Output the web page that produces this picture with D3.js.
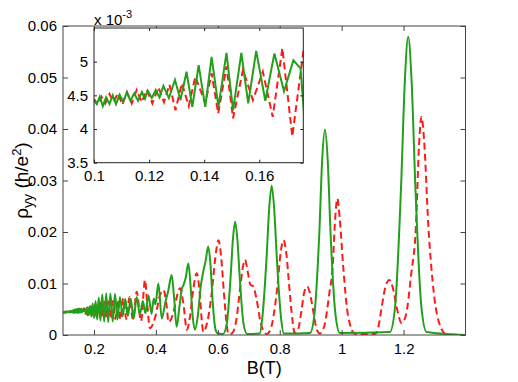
<!DOCTYPE html>
<meta charset="utf-8">
<script src="https://d3js.org/d3.v7.min.js"></script>
<style>
  body { margin: 0; background: #fff; }
  text { font-family: "Liberation Sans Narrow", "Arial Narrow", "Liberation Sans", sans-serif; fill: #000; }
</style>
<div id="chart"></div>
<script>
// ---- data (B in tesla, rho_yy in h/e^2) ----
var green = [
  [0.1000,0.00442],[0.1010,0.00437],[0.1021,0.00448],[0.1032,0.00434],[0.1044,0.00447],[0.1056,0.00437],
  [0.1068,0.00450],[0.1080,0.00437],[0.1093,0.00451],[0.1106,0.00441],[0.1119,0.00454],[0.1132,0.00442],
  [0.1146,0.00453],[0.1160,0.00442],[0.1174,0.00455],[0.1185,0.00445],[0.1195,0.00457],[0.1210,0.00446],
  [0.1224,0.00458],[0.1238,0.00447],[0.1252,0.00464],[0.1272,0.00446],[0.1294,0.00473],[0.1314,0.00443],
  [0.1336,0.00485],[0.1357,0.00433],[0.1380,0.00495],[0.1404,0.00433],[0.1427,0.00507],[0.1452,0.00433],
  [0.1481,0.00513],[0.1505,0.00428],[0.1535,0.00513],[0.1560,0.00438],[0.1589,0.00516],[0.1622,0.00442],
  [0.1655,0.00512],[0.1690,0.00456],[0.1724,0.00502],[0.1750,0.00490],
  [0.1765,0.0041],[0.1800,0.0054],[0.1838,0.0039],[0.1875,0.0057],[0.1915,0.0036],[0.1958,0.0061],
  [0.2003,0.0033],[0.2052,0.0066],[0.2103,0.0030],[0.2155,0.0073],[0.2210,0.0028],[0.2268,0.0079],
  [0.2330,0.0026],[0.2395,0.0081],[0.2460,0.0025],[0.2530,0.0081],[0.2605,0.0026],[0.2680,0.0080],
  [0.2760,0.0030],[0.2840,0.0074],[0.2925,0.0036],[0.3010,0.0070],[0.3095,0.0037],[0.3185,0.0071],
  [0.3280,0.0031],[0.3380,0.0074],[0.3480,0.0040],[0.3580,0.0066],[0.3660,0.0042],[0.3760,0.0077],
  [0.3860,0.0041],[0.3930,0.0071],[0.3985,0.0060],[0.4080,0.0100],[0.4190,0.0032],[0.4300,0.0062],
  [0.4400,0.0086],[0.4510,0.01165],[0.4585,0.0075],[0.4670,0.0016],[0.4760,0.0055],[0.4840,0.0090],
  [0.4890,0.0097],[0.4960,0.0110],[0.5050,0.0139],[0.5120,0.0095],[0.5190,0.0035],[0.5260,0.0010],
  [0.5350,0.0035],[0.5450,0.0095],[0.5530,0.0123],[0.5610,0.0145],[0.5690,0.0172],[0.5760,0.0140],
  [0.5840,0.0060],[0.5920,0.0012],[0.5980,0.0004],[0.6170,0.0002],[0.6290,0.0022],[0.6410,0.0110],
  [0.6490,0.0187],[0.6560,0.0220],[0.6630,0.0187],[0.6710,0.0110],[0.6830,0.0022],[0.6950,0.0002],
  [0.7350,0.0003],[0.7430,0.0029],[0.7570,0.0145],[0.7660,0.0246],[0.7740,0.0290],[0.7820,0.0246],
  [0.7910,0.0145],[0.8050,0.0029],[0.8130,0.0003],[0.8980,0.0004],[0.9120,0.0040],[0.9280,0.0200],
  [0.9370,0.0339],[0.9460,0.0399],[0.9550,0.0339],[0.9640,0.0200],[0.9800,0.0040],[0.9940,0.0004],
  [1.1560,0.0006],[1.1730,0.0058],[1.1920,0.0290],[1.2040,0.0492],[1.2150,0.0579],[1.2260,0.0492],
  [1.2380,0.0290],[1.2570,0.0058],[1.2740,0.0006],[1.4000,0.0000]
];

var red = [
  [0.1000,0.00445],[0.1013,0.00436],[0.1027,0.00448],[0.1041,0.00438],[0.1056,0.00452],[0.1071,0.00440],
  [0.1087,0.00453],[0.1103,0.00436],[0.1120,0.00455],[0.1137,0.00438],[0.1155,0.00458],[0.1173,0.00440],
  [0.1192,0.00458],[0.1212,0.00438],[0.1234,0.00462],[0.1254,0.00440],[0.1274,0.00466],[0.1296,0.00428],
  [0.1319,0.00468],[0.1344,0.00434],[0.1368,0.00478],[0.1404,0.00438],[0.1427,0.00483],[0.1451,0.00423],
  [0.1481,0.00493],[0.1505,0.00416],[0.1541,0.00488],[0.1577,0.00443],[0.1613,0.00485],[0.1649,0.00418],
  [0.1684,0.00520],[0.1720,0.00389],[0.1765,0.0053],
  [0.1803,0.0038],[0.1843,0.0053],[0.1888,0.0038],[0.1935,0.0055],[0.1983,0.0037],[0.2032,0.0058],
  [0.2080,0.0035],[0.2126,0.0061],[0.2178,0.0034],[0.2230,0.0063],[0.2287,0.0033],[0.2344,0.0064],
  [0.2405,0.0032],[0.2470,0.0065],[0.2540,0.0032],[0.2610,0.0066],[0.2690,0.0031],[0.2768,0.0068],
  [0.2855,0.0030],[0.2946,0.0071],[0.3045,0.0031],[0.3148,0.0074],[0.3260,0.0030],[0.3380,0.0084],
  [0.3520,0.0027],[0.3650,0.0107],[0.3720,0.0060],[0.3810,0.0013],[0.3860,0.0016],[0.4000,0.0040],
  [0.4120,0.0075],[0.4250,0.0087],[0.4340,0.0060],[0.4410,0.0025],[0.4550,0.0040],[0.4680,0.0075],
  [0.4780,0.0091],[0.4890,0.0060],[0.5000,0.0010],[0.5100,0.0035],[0.5200,0.0085],[0.5320,0.0120],
  [0.5410,0.0085],[0.5480,0.0030],[0.5530,0.0006],[0.5660,0.0025],[0.5800,0.0080],[0.5920,0.0150],
  [0.6020,0.0184],[0.6110,0.0150],[0.6200,0.0080],[0.6280,0.0025],[0.6340,0.0002],[0.6450,0.0003],
  [0.6600,0.0030],[0.6720,0.0090],[0.6810,0.0132],[0.6880,0.0146],[0.6960,0.0125],[0.7050,0.0098],
  [0.7150,0.0094],[0.7250,0.0070],[0.7380,0.0025],[0.7500,0.0005],[0.7580,0.0002],[0.7700,0.0010],
  [0.7820,0.0045],[0.7920,0.0092],[0.8030,0.0160],[0.8120,0.0184],[0.8210,0.0160],[0.8310,0.0092],
  [0.8410,0.0030],[0.8480,0.0004],[0.8600,0.0012],[0.8700,0.0047],[0.8800,0.0085],[0.8890,0.0094],
  [0.8980,0.0080],[0.9080,0.0047],[0.9200,0.0010],[0.9300,0.0003],[0.9450,0.0020],[0.9600,0.0080],
  [0.9710,0.0133],[0.9790,0.0225],[0.9860,0.0265],[0.9940,0.0225],[1.0050,0.0133],[1.0200,0.0040],
  [1.0430,0.0002],[1.1080,0.0002],[1.1200,0.0020],[1.1290,0.0053],[1.1420,0.0095],[1.1540,0.0107],
  [1.1660,0.0090],[1.1780,0.0053],[1.1940,0.0023],[1.2080,0.0040],[1.2250,0.0120],[1.2400,0.0212],
  [1.2500,0.0370],[1.2580,0.0424],[1.2660,0.0380],[1.2800,0.0212],[1.2980,0.0080],[1.3200,0.0015],
  [1.3390,0.0001],[1.4000,0.0000]
];

var xTicks = [0.2, 0.4, 0.6, 0.8, 1, 1.2];
var xTickLabels = ["0.2", "0.4", "0.6", "0.8", "1", "1.2"];
var yTicks = [0, 0.01, 0.02, 0.03, 0.04, 0.05, 0.06];
var yTickLabels = ["0", "0.01", "0.02", "0.03", "0.04", "0.05", "0.06"];
var insetXTicks = [0.1, 0.12, 0.14, 0.16];
var insetXTickLabels = ["0.1", "0.12", "0.14", "0.16"];
var insetYTicks = [0.0035, 0.004, 0.0045, 0.005];
var insetYTickLabels = ["3.5", "4", "4.5", "5"];

var greenColor = "#22a01a", redColor = "#ff1a1a";

var W = 518, H = 382;
var svg = d3.select("#chart").append("svg")
    .attr("width", W).attr("height", H)
    .style("display", "block").style("background", "#fff");

// ---- main axes ----
var mLeft = 63, mRight = 465.5, mTop = 26, mBottom = 335;

var x = d3.scaleLinear().domain([0.1, 1.4]).range([mLeft, mRight]);
var y = d3.scaleLinear().domain([0, 0.06]).range([mBottom, mTop]);

svg.append("clipPath").attr("id", "mainclip")
  .append("rect").attr("x", mLeft).attr("y", mTop).attr("width", mRight - mLeft).attr("height", mBottom - mTop);

var line = d3.line().x(d => x(d[0])).y(d => y(d[1])).curve(d3.curveMonotoneX);

var g = svg.append("g").attr("clip-path", "url(#mainclip)");
g.append("path").datum(red)
  .attr("d", line).attr("fill", "none")
  .attr("stroke", redColor).attr("stroke-width", 2).attr("stroke-dasharray", "7,4");
g.append("path").datum(green)
  .attr("d", line).attr("fill", "none")
  .attr("stroke", greenColor).attr("stroke-width", 2);

function frame(sel, xs, ys, xt, xl, yt, yl, color, tick) {
  var x0 = xs.range()[0], x1 = xs.range()[1], y0 = ys.range()[0], y1 = ys.range()[1];
  // bottom
  sel.append("g").attr("transform", "translate(0," + y0 + ")")
    .call(d3.axisBottom(xs).tickValues(xt).tickFormat((d, i) => xl[i]).tickSizeInner(-tick).tickSizeOuter(0).tickPadding(8))
    .call(a => a.select(".domain").remove());
  // top
  sel.append("g").attr("transform", "translate(0," + y1 + ")")
    .call(d3.axisTop(xs).tickValues(xt).tickFormat("").tickSizeInner(-tick).tickSizeOuter(0))
    .call(a => a.select(".domain").remove());
  // left
  sel.append("g").attr("transform", "translate(" + x0 + ",0)")
    .call(d3.axisLeft(ys).tickValues(yt).tickFormat((d, i) => yl[i]).tickSizeInner(-tick).tickSizeOuter(0).tickPadding(6))
    .call(a => a.select(".domain").remove());
  // right
  sel.append("g").attr("transform", "translate(" + x1 + ",0)")
    .call(d3.axisRight(ys).tickValues(yt).tickFormat("").tickSizeInner(-tick).tickSizeOuter(0))
    .call(a => a.select(".domain").remove());
  sel.selectAll(".tick line").attr("stroke", color);
  sel.selectAll(".tick text").style("font-size", "15px").attr("fill", "#000");
  sel.append("rect")
    .attr("x", x0).attr("y", y1)
    .attr("width", x1 - x0).attr("height", y0 - y1)
    .attr("fill", "none").attr("stroke", color).attr("stroke-width", 1);
}

frame(svg.append("g"), x, y, xTicks, xTickLabels, yTicks, yTickLabels, "#444", 5);

// axis labels
svg.append("text")
  .attr("x", (mLeft + mRight) / 2).attr("y", 374)
  .attr("text-anchor", "middle").style("font-size", "18px")
  .text("B(T)");

var yl = svg.append("text")
  .attr("transform", "translate(28," + ((mTop + mBottom) / 2) + ") rotate(-90)")
  .attr("text-anchor", "middle").style("font-size", "19px");
yl.append("tspan").text("\u03c1");
yl.append("tspan").attr("dy", 5).style("font-size", "14px").text("yy");
yl.append("tspan").attr("dy", -5).text(" (h/e");
yl.append("tspan").attr("dy", -7).style("font-size", "13px").text("2");
yl.append("tspan").attr("dy", 7).text(")");

// ---- inset ----
var iLeft = 94, iRight = 303.3, iTop = 28, iBottom = 162.7;
var ix = d3.scaleLinear().domain([0.1, 0.176]).range([iLeft, iRight]);
var iy = d3.scaleLinear().domain([0.0035, 0.0055]).range([iBottom, iTop]);

svg.append("rect")
  .attr("x", iLeft).attr("y", iTop).attr("width", iRight - iLeft).attr("height", iBottom - iTop)
  .attr("fill", "#fff");

svg.append("clipPath").attr("id", "insetclip")
  .append("rect").attr("x", iLeft).attr("y", iTop).attr("width", iRight - iLeft).attr("height", iBottom - iTop);

var iline = d3.line().x(d => ix(d[0])).y(d => iy(d[1]));
var ig = svg.append("g").attr("clip-path", "url(#insetclip)");
ig.append("path").datum(red.filter(d => d[0] <= 0.18))
  .attr("d", iline).attr("fill", "none")
  .attr("stroke", redColor).attr("stroke-width", 2).attr("stroke-dasharray", "7,4");
ig.append("path").datum(green.filter(d => d[0] <= 0.18))
  .attr("d", iline).attr("fill", "none")
  .attr("stroke", greenColor).attr("stroke-width", 2);

frame(svg.append("g"), ix, iy, insetXTicks, insetXTickLabels, insetYTicks, insetYTickLabels, "#222", 3);

var ex = svg.append("text").attr("x", iLeft).attr("y", 25).style("font-size", "15px");
ex.append("tspan").text("x 10");
ex.append("tspan").attr("dy", -7).style("font-size", "11px").text("-3");
</script>
